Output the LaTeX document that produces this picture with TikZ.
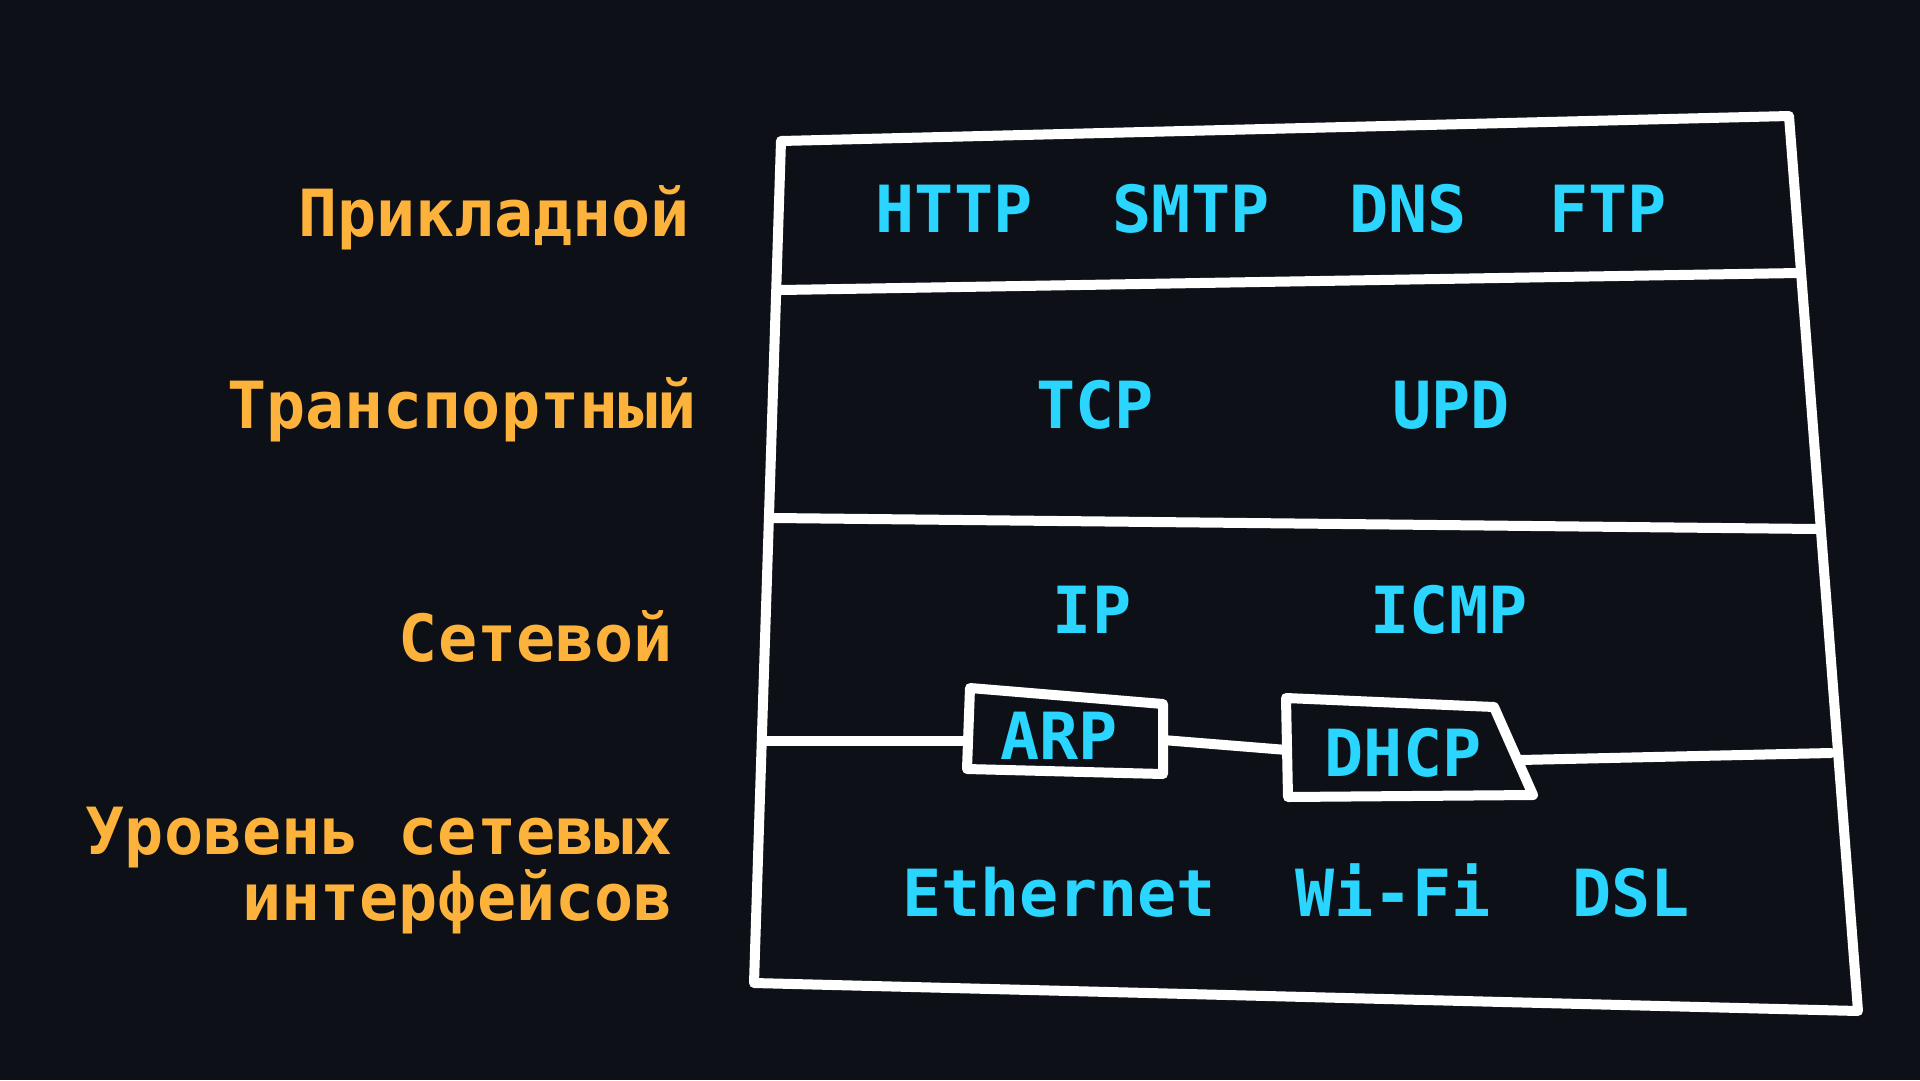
\documentclass[tikz,border=0pt]{standalone}
\usepackage{fontspec}
\setmonofont{DejaVu Sans Mono}
\definecolor{bgc}{HTML}{0D1017}
\definecolor{cyanc}{HTML}{2AD6FF}
\definecolor{orangec}{HTML}{FDB23C}
\begin{document}
\begin{tikzpicture}[x=1pt,y=-1pt,
  txt/.style={font=\ttfamily\bfseries\fontsize{65}{57}\selectfont, inner sep=0pt},
  proto/.style={txt, text=cyanc, anchor=base},
  layer/.style={txt, text=orangec, anchor=base east},
  wire/.style={draw=white, line width=10pt, line join=round, line cap=round}]
\fill[bgc] (0,0) rectangle (1920,1080);
\useasboundingbox (0,0) rectangle (1920,1080);
% outer frame corners
\coordinate (TL) at (781,141);
\coordinate (TR) at (1789,116);
\coordinate (BR) at (1858,1011);
\coordinate (BL) at (754,983);
\coordinate (L1a) at (781,290);
\coordinate (L1b) at (1798,273);
\coordinate (L2a) at (774,518);
\coordinate (L2b) at (1817,529);
\coordinate (L3a) at (767,741);
\coordinate (L3b) at (1831,753);
% ARP box
\coordinate (A1) at (970,688);
\coordinate (A2) at (1163,704);
\coordinate (A3) at (1163,774);
\coordinate (A4) at (967,769);
\coordinate (Al) at (967,741);
\coordinate (Ar) at (1163,740);
% DHCP box
\coordinate (D1) at (1286,698);
\coordinate (D2) at (1494,707);
\coordinate (D3) at (1533,795);
\coordinate (D4) at (1288,797);
\coordinate (Dl) at (1287,750);
\coordinate (Dr) at (1520,760);

\draw[wire] (TL) -- (TR) -- (BR) -- (BL) -- cycle;
\draw[wire] (L1a) -- (L1b);
\draw[wire] (L2a) -- (L2b);
\draw[wire] (L3a) -- (Al);
\draw[wire] (A1) -- (A2) -- (A3) -- (A4) -- cycle;
\draw[wire] (Ar) -- (Dl);
\draw[wire] (D1) -- (D2) -- (D3) -- (D4) -- cycle;
\draw[wire] (Dr) -- (L3b);

% protocols
\node[proto] (http) at (954,232) {HTTP};
\node[proto] (smtp) at (1191,232) {SMTP};
\node[proto] (dns) at (1408,232) {DNS};
\node[proto] (ftp) at (1608,232) {FTP};
\node[proto] (tcp) at (1095,428) {TCP};
\node[proto] (upd) at (1451,428) {UPD};
\node[proto] (ip) at (1092,633) {IP};
\node[proto] (icmp) at (1449,633) {ICMP};
\node[proto] (arp) at (1059,759) {ARP};
\node[proto] (dhcp) at (1403,776) {DHCP};
\node[proto] (eth) at (1059,916) {Ethernet};
\node[proto] (wifi) at (1393,916) {Wi-Fi};
\node[proto] (dsl) at (1631,916) {DSL};

% layers
\node[layer] (app) at (690,236) {Прикладной};
\node[layer] (trans) at (697,428) {Транспортный};
\node[layer] (net) at (673,661) {Сетевой};
\node[layer, align=right] (link) at (673,920) {Уровень сетевых\\интерфейсов};
\end{tikzpicture}
\end{document}
